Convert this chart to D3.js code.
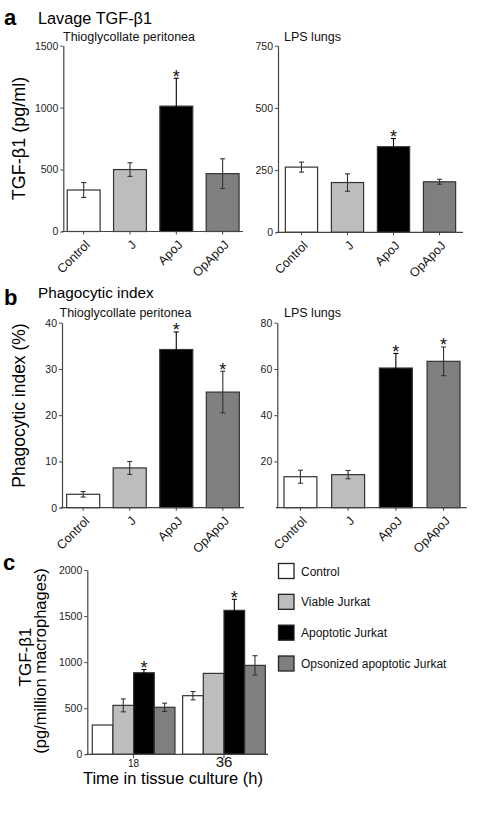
<!DOCTYPE html>
<html><head><meta charset="utf-8">
<script src="https://cdn.jsdelivr.net/npm/d3@7"></script>
<style>
body{margin:0;background:#fff;}
svg{display:block;font-family:"Liberation Sans",Arial,Helvetica,sans-serif;}
</style></head>
<body><svg id="chart" width="490" height="821"></svg>
<script>
// ---------- DATA ----------
const groups = ["Control", "J", "ApoJ", "OpApoJ"];
const groupFills = ["#ffffff", "#bdbdbd", "#000000", "#7f7f7f"];

const aPeritValues = [335, 500, 1012, 467];
const aPeritErrors = [60, 55, 225, 120];
const aPeritStars  = [0, 0, 1, 0];
const aPeritTicks  = [0, 500, 1000, 1500];

const aLungValues = [262, 200, 344, 203];
const aLungErrors = [20, 35, 33, 10];
const aLungStars  = [0, 0, 1, 0];
const aLungTicks  = [0, 250, 500, 750];

const bPeritValues = [2.9, 8.6, 34.2, 25.0];
const bPeritErrors = [0.6, 1.4, 3.8, 4.5];
const bPeritStars  = [0, 0, 1, 1];
const bPeritTicks  = [0, 10, 20, 30, 40];

const bLungValues = [13.4, 14.3, 60.4, 63.3];
const bLungErrors = [2.8, 1.8, 6.3, 6.2];
const bLungStars  = [0, 0, 1, 1];
const bLungTicks  = [20, 40, 60, 80];

const cTimes = ["18", "36"];
const cSeries = ["Control", "Viable Jurkat", "Apoptotic Jurkat", "Opsonized apoptotic Jurkat"];
const c18Values = [318, 531, 885, 510];
const c18Errors = [0, 70, 35, 45];
const c36Values = [636, 878, 1562, 965];
const c36Errors = [45, 0, 120, 105];
const cStars18 = [0, 0, 1, 0];
const cStars36 = [0, 0, 1, 0];
const cTicks = [0, 500, 1000, 1500, 2000];

// ---------- DRAWING ----------
const svg = d3.select("#chart");
const axisColor = "#444";
const barStroke = "#333";
const fmt = d3.format("d");

function yAxis(g, y, x0, ticks) {
  const ax = d3.axisLeft(y).tickValues(ticks).tickFormat(fmt).tickSize(3).tickPadding(2).tickSizeOuter(0);
  const gg = g.append("g").attr("transform", `translate(${x0},0)`).call(ax);
  gg.select(".domain").attr("stroke", axisColor).attr("stroke-width", 1.2);
  gg.selectAll(".tick line").attr("stroke", axisColor).attr("stroke-width", 1);
  gg.selectAll(".tick text").attr("font-size", 10.5).attr("fill", "#222")
    .attr("font-family", '"Liberation Sans",Arial,sans-serif');
  return gg;
}

function errorBar(g, cx, yTop, yBot, color) {
  g.append("line").attr("x1", cx).attr("x2", cx).attr("y1", yTop).attr("y2", yBot)
    .attr("stroke", color).attr("stroke-width", 1.1);
  [yTop, yBot].forEach(yy => g.append("line").attr("x1", cx - 2.5).attr("x2", cx + 2.5)
    .attr("y1", yy).attr("y2", yy).attr("stroke", color).attr("stroke-width", 1.1));
}

function star(g, cx, yTop) {
  g.append("text").attr("x", cx).attr("y", yTop + 4.5).attr("text-anchor", "middle")
    .attr("font-size", 18).attr("fill", "#111").text("*");
}

function barPanel(p) {
  const g = svg.append("g");
  const x = d3.scaleBand().domain(groups).range([p.x0, p.x1])
    .paddingInner(p.pi).paddingOuter(p.po);
  const y = d3.scaleLinear().domain([0, p.max]).range([p.y0, p.y1]);
  groups.forEach((k, i) => {
    const v = p.values[i];
    g.append("rect").attr("x", x(k)).attr("width", x.bandwidth())
      .attr("y", y(v)).attr("height", y(0) - y(v))
      .attr("fill", groupFills[i]).attr("stroke", barStroke).attr("stroke-width", 1.2);
  });
  groups.forEach((k, i) => {
    const v = p.values[i], e = p.errors[i];
    if (!e) return;
    const cx = x(k) + x.bandwidth() / 2;
    errorBar(g, cx, y(v + e), y(Math.max(0, v - e)), i === 2 ? "#000" : "#333");
    if (p.stars[i]) star(g, cx, y(v + e));
  });
  const xa = d3.axisBottom(x).tickSize(3).tickSizeOuter(0);
  const xg = g.append("g").attr("transform", `translate(0,${p.y0})`).call(xa);
  xg.select(".domain").attr("stroke", axisColor).attr("stroke-width", 1.2)
    .attr("d", `M${p.x0 - 1.5},0H${p.x1}`);
  xg.selectAll(".tick line").attr("stroke", axisColor);
  xg.selectAll(".tick text").attr("font-size", 12.5).attr("fill", "#111")
    .attr("font-family", '"Liberation Sans",Arial,sans-serif')
    .attr("text-anchor", "end").attr("dy", null).attr("y", null)
    .attr("transform", "translate(7,14) rotate(-45)");
  yAxis(g, y, p.x0, p.ticks);
  g.append("text").attr("x", p.subX).attr("y", p.subY).attr("font-size", 12.5)
    .attr("fill", "#111").text(p.sub);
}

barPanel({x0: 63.3, x1: 243, pi: 0.29, po: 0.085, y0: 231.5, y1: 45.7, max: 1500,
  values: aPeritValues, errors: aPeritErrors, stars: aPeritStars, ticks: aPeritTicks,
  sub: "Thioglycollate peritonea", subX: 63, subY: 40.5});
barPanel({x0: 278, x1: 463, pi: 0.3, po: 0.16, y0: 232.3, y1: 45.7, max: 750,
  values: aLungValues, errors: aLungErrors, stars: aLungStars, ticks: aLungTicks,
  sub: "LPS lungs", subX: 284, subY: 40.5});
barPanel({x0: 62, x1: 244, pi: 0.29, po: 0.1, y0: 507.7, y1: 322.7, max: 40,
  values: bPeritValues, errors: bPeritErrors, stars: bPeritStars, ticks: bPeritTicks,
  sub: "Thioglycollate peritonea", subX: 59.5, subY: 316.5});
barPanel({x0: 277.3, x1: 466.7, pi: 0.31, po: 0.14, y0: 507.7, y1: 322.7, max: 80,
  values: bLungValues, errors: bLungErrors, stars: bLungStars, ticks: bLungTicks,
  sub: "LPS lungs", subX: 284, subY: 316.5});

function heading(letter, lx, ly, title, tx, ty, tsize) {
  svg.append("text").attr("x", lx).attr("y", ly).attr("font-size", 22)
    .attr("font-weight", "bold").attr("fill", "#000").text(letter);
  if (title) svg.append("text").attr("x", tx).attr("y", ty).attr("font-size", tsize)
    .attr("fill", "#000").text(title);
}
heading("a", 4, 25, "Lavage TGF-β1", 38, 24, 16.3);
heading("b", 4, 304.5, "Phagocytic index", 38, 298, 15.3);
heading("c", 3, 570, null);

svg.append("text").attr("transform", "translate(25,138.5) rotate(-90)")
  .attr("text-anchor", "middle").attr("font-size", 18).attr("fill", "#000").text("TGF-β1 (pg/ml)");
svg.append("text").attr("transform", "translate(25,405.5) rotate(-90)")
  .attr("text-anchor", "middle").attr("font-size", 17.5).attr("fill", "#000").text("Phagocytic index (%)");

(function () {
  const g = svg.append("g");
  const x0 = 87.3, x1 = 268, yBase = 754.3;
  const x = d3.scaleBand().domain(cTimes).range([x0, 270.3]).paddingInner(0.085).paddingOuter(0.055);
  const xs = d3.scaleBand().domain(cSeries).range([0, x.bandwidth()]);
  const y = d3.scaleLinear().domain([0, 2000]).range([yBase, 570]);
  const vals = [c18Values, c36Values], errs = [c18Errors, c36Errors], stars = [cStars18, cStars36];
  cTimes.forEach((t, ti) => {
    cSeries.forEach((s, si) => {
      const v = vals[ti][si];
      g.append("rect").attr("x", x(t) + xs(s)).attr("width", xs.bandwidth())
        .attr("y", y(v)).attr("height", y(0) - y(v))
        .attr("fill", groupFills[si]).attr("stroke", barStroke).attr("stroke-width", 1.2);
    });
    cSeries.forEach((s, si) => {
      const v = vals[ti][si], e = errs[ti][si];
      if (!e) return;
      const cx = x(t) + xs(s) + xs.bandwidth() / 2;
      errorBar(g, cx, y(v + e), y(v - e), si === 2 ? "#000" : "#333");
      if (stars[ti][si]) star(g, cx, y(v + e));
    });
  });
  const xg = g.append("g").attr("transform", `translate(0,${yBase})`)
    .call(d3.axisBottom(x).tickSize(4).tickSizeOuter(0));
  xg.select(".domain").attr("stroke", axisColor).attr("stroke-width", 1.2).attr("d", `M${x0 - 1},0H${x1}`);
  xg.selectAll(".tick line").attr("stroke", axisColor);
  xg.selectAll(".tick text").attr("fill", "#111").attr("font-family", '"Liberation Sans",Arial,sans-serif')
    .attr("dy", null).attr("y", 13)
    .attr("font-size", d => d === "18" ? 10 : 15);
  yAxis(g, y, x0, cTicks);
  g.append("text").attr("x", 173).attr("y", 784).attr("text-anchor", "middle")
    .attr("font-size", 16.5).attr("fill", "#000").text("Time in tissue culture (h)");
  g.append("text").attr("transform", "translate(31,657) rotate(-90)").attr("text-anchor", "middle")
    .attr("font-size", 17).attr("fill", "#000").text("TGF-β1");
  g.append("text").attr("transform", "translate(46,661) rotate(-90)").attr("text-anchor", "middle")
    .attr("font-size", 16.5).attr("fill", "#000").text("(pg/million macrophages)");

  const lg = svg.append("g");
  const ly = d3.scalePoint().domain(cSeries).range([571, 663.5]);
  cSeries.forEach((s, i) => {
    lg.append("rect").attr("x", 278.5).attr("y", ly(s) - 7.5).attr("width", 15.5).attr("height", 15)
      .attr("fill", groupFills[i]).attr("stroke", "#222").attr("stroke-width", 1.3);
    lg.append("text").attr("x", 301).attr("y", ly(s) + 4.5).attr("font-size", 12)
      .attr("fill", "#111").text(s);
  });
})();
</script></body></html>
